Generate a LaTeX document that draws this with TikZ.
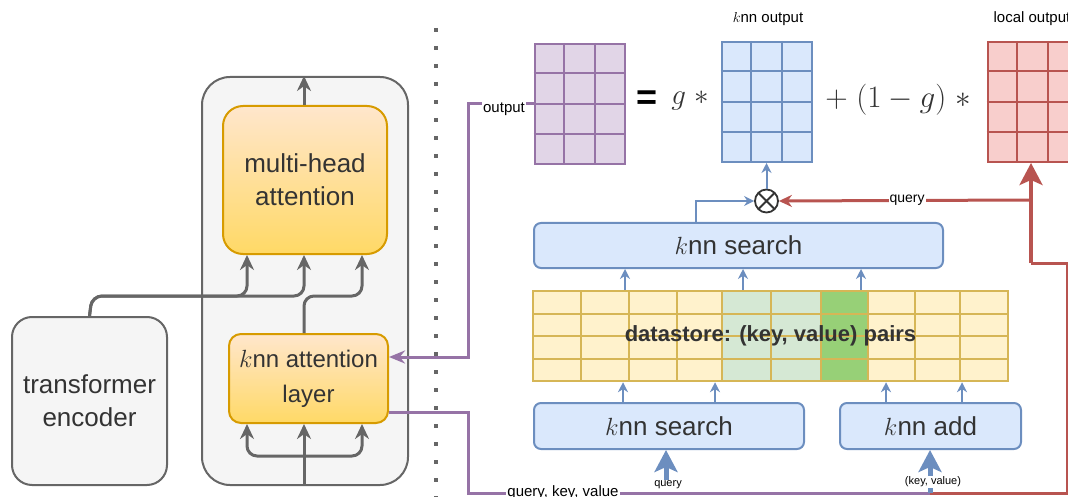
\documentclass[tikz,border=0pt]{standalone}
\usepackage{graphicx}
\usepackage{fontspec}
\setmainfont{Liberation Sans}
\usetikzlibrary{arrows.meta,calc}
\definecolor{gline}{HTML}{666666}
\definecolor{txt}{HTML}{333333}
\definecolor{encfill}{HTML}{F5F5F5}
\definecolor{ortop}{HTML}{FFE6CC}
\definecolor{orbot}{HTML}{FFD966}
\definecolor{orline}{HTML}{D79B00}
\definecolor{blfill}{HTML}{DAE8FC}
\definecolor{blline}{HTML}{6C8EBF}
\definecolor{purfill}{HTML}{E1D5E7}
\definecolor{purline}{HTML}{9673A6}
\definecolor{redfill}{HTML}{F8CECC}
\definecolor{redline}{HTML}{B85450}
\definecolor{yfill}{HTML}{FFF2CC}
\definecolor{yline}{HTML}{D6B656}
\definecolor{lgfill}{HTML}{D5E8D4}
\definecolor{gfill}{HTML}{97D077}
\newcommand{\matgrid}[2]{%
  \foreach \i in {1,2} \draw[#2, line width=2pt] ($(#1.north west)!\i/3!(#1.north east)$) -- ($(#1.south west)!\i/3!(#1.south east)$);
  \foreach \j in {1,2,3} \draw[#2, line width=2pt] ($(#1.north west)!\j/4!(#1.south west)$) -- ($(#1.north east)!\j/4!(#1.south east)$);
}
\tikzset{
  graybox/.style={rectangle, draw=gline, fill=encfill, line width=2pt, text=txt, align=center, inner sep=0pt},
  orbox/.style={rectangle, draw=orline, top color=ortop, bottom color=orbot, line width=2pt, text=txt, align=center, inner sep=0pt},
  bluebox/.style={rectangle, rounded corners=7pt, draw=blline, fill=blfill, line width=2pt, text=txt, inner sep=0pt, font=\fontsize{26}{32}\selectfont},
  matbox/.style={rectangle, minimum width=90pt, minimum height=120pt, line width=2pt, inner sep=0pt},
  garrow/.style={draw=gline, line width=3pt, rounded corners=10pt, -{Stealth[length=15pt,width=14pt]}},
  barrow/.style={draw=blline, line width=2pt, -{Stealth[length=10pt,width=10pt]}},
  bigbarrow/.style={draw=blline, line width=5pt, -{Stealth[length=22pt,width=23pt,inset=5pt]}},
  parrow/.style={draw=purline, line width=3pt, -{Stealth[length=16pt,width=13pt]}},
  pline/.style={draw=purline, line width=3pt},
  rline/.style={draw=redline, line width=3pt},
  rarrow/.style={draw=redline, line width=3pt, -{Stealth[length=13pt,width=12pt]}},
  bigrarrow/.style={draw=redline, line width=3.5pt, -{Stealth[length=22pt,width=23pt,inset=5pt]}},
  lbl/.style={fill=white, inner sep=1pt, text=black},
}
\begin{document}
\begin{tikzpicture}[x=1pt,y=-1pt]
\useasboundingbox (0,0) rectangle (1068,497);
% dotted separator
\draw[gline, line width=4pt, dash pattern=on 4pt off 14pt] (436,28) -- (436,497);

% left part
\node[graybox, rounded corners=28pt, minimum width=206pt, minimum height=408pt] (cont) at (305,281) {};
\node[graybox, rounded corners=20pt, minimum width=155pt, minimum height=168pt, font=\fontsize{26}{33}\selectfont] (te) at (89.5,401) {transformer\\encoder};
\node[orbox, rounded corners=20pt, minimum width=164pt, minimum height=148pt, font=\fontsize{26}{33}\selectfont] (mha) at (305,180) {multi-head\\attention};
\node[orbox, rounded corners=12pt, minimum width=159pt, minimum height=89pt, font=\fontsize{24}{35}\selectfont] (knnl) at (308.5,378.5) {$k$nn attention\\layer};

\draw[garrow] (mha.north -| 304,0) -- (cont.north -| 304,0);
\draw[garrow] (te.north) -- (92,296) -- (247,296) -- (247,0 |- mha.south);
\draw[garrow] (te.north) -- (92,296) -- (304,296) -- (304,0 |- mha.south);
\draw[garrow] (knnl.north -| 304,0) -- (304,296) -- (362,296) -- (362,0 |- mha.south);
\draw[garrow] (cont.south -| 304,0) -- (304,0 |- knnl.south);
\draw[garrow] (304,456) -- (247,456) -- (247,0 |- knnl.south);
\draw[garrow] (304,456) -- (362,456) -- (362,0 |- knnl.south);

% matrices
\node[matbox, draw=purline, fill=purfill] (outm) at (579.5,104) {};
\matgrid{outm}{purline}
\node[matbox, draw=blline, fill=blfill] (knnm) at (766.5,102) {};
\matgrid{knnm}{blline}
\node[matbox, draw=redline, fill=redfill] (locm) at (1032.5,102) {};
\matgrid{locm}{redline}
\node[font=\fontsize{15}{18}\selectfont] (knnlab) at (768,19) {$k$nn output};
\node[font=\fontsize{15}{18}\selectfont] (loclab) at (1032,19) {local output};
\node[font=\fontsize{36}{40}\selectfont\bfseries, text=black] (eq) at (647,100) {=};
\node[font=\fontsize{22}{26}\selectfont, text=txt] (gs) at (690,101) {\scalebox{1.4}{$g\;\ast$}};
\node[font=\fontsize{22}{26}\selectfont, text=txt] (pg) at (898,100) {\scalebox{1.5}{$+\;(1-g)\;\ast$}};

% otimes
\node[circle, draw=txt, fill=white, line width=1.8pt, minimum size=23pt, inner sep=0pt,
  path picture={\draw[txt, line width=1.8pt] (path picture bounding box.north west) -- (path picture bounding box.south east)
  (path picture bounding box.north east) -- (path picture bounding box.south west);}] (ot) at (766.5,201) {};

% knn search (top)
\node[bluebox, minimum width=409pt, minimum height=45pt] (ks1) at (738.5,245.5) {$k$nn search};

% datastore
\fill[yfill] (533,291) rectangle (1008,381);
\fill[lgfill] (722,291) rectangle (821,381);
\fill[gfill] (821,291) rectangle (868,381);
\foreach \x in {581,629,677,722,771,821,868,915,960}
  \draw[yline, line width=2pt] (\x,291) -- (\x,381);
\foreach \y in {313.5,336,358.5}
  \draw[yline, line width=2pt] (533,\y) -- (1008,\y);
\node[rectangle, draw=yline, line width=2.5pt, minimum width=475pt, minimum height=90pt, inner sep=0pt,
  font=\fontsize{22}{26}\selectfont\bfseries, text=txt] (ds) at (770.5,336) {datastore: (key, value) pairs};

% bottom boxes
\node[bluebox, minimum width=270pt, minimum height=46pt] (ks2) at (669,426) {$k$nn search};
\node[bluebox, minimum width=181pt, minimum height=46pt] (kadd) at (930.5,426) {$k$nn add};

% blue arrows
\foreach \x in {625,743,861} \draw[barrow] (\x,0 |- ds.north) -- (\x,0 |- ks1.south);
\foreach \x in {623,715} \draw[barrow] (\x,0 |- ks2.north) -- (\x,0 |- ds.south);
\foreach \x in {886,962} \draw[barrow] (\x,0 |- kadd.north) -- (\x,0 |- ds.south);
\draw[barrow] (696,0 |- ks1.north) -- (696,201) -- (ot.west);
\draw[barrow] (ot.north) -- (knnm.south -| ot.north);

% purple paths
\draw[parrow] (outm.west) -- (468,0 |- outm.west) -- (468,357) -- (knnl.east |- 0,357);
\node[lbl, font=\fontsize{15}{18}\selectfont] (outlab) at (504,109) {output};
\coordinate (J) at (930,493);
\draw[pline] (knnl.east |- 0,412) -- (468,412) -- (468,493) -- (J);
\node[lbl, font=\fontsize{15}{18}\selectfont] (qkv) at (563,493) {query, key, value};

% red paths
\draw[rline] (J) -- (1067,493) -- (1067,263) -- (1031,263);
\draw[bigrarrow] (1031,263) -- (1031,0 |- locm.south);
\draw[rarrow] (1031,200) -- (ot.east);
\node[lbl, font=\fontsize{14}{17}\selectfont] (qlab) at (907,200) {query};

% big blue arrows
\coordinate (qsrc) at (666,489);
\draw[bigbarrow] (qsrc) -- (qsrc |- ks2.south);
\node[lbl, font=\fontsize{11}{13}\selectfont] (qlab2) at (668,485) {query};
\draw[bigbarrow] (J) -- (J |- kadd.south);
\node[lbl, font=\fontsize{11}{13}\selectfont] (kvlab) at (933,482) {(key, value)};
\end{tikzpicture}
\end{document}
